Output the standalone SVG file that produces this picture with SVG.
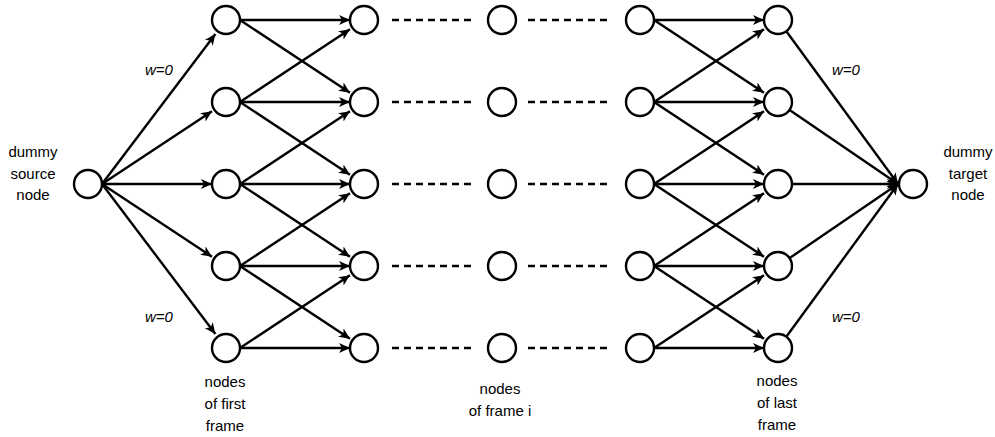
<svg xmlns="http://www.w3.org/2000/svg" width="995" height="437" viewBox="0 0 995 437">
<defs>
<marker id="arr" markerUnits="userSpaceOnUse" markerWidth="14" markerHeight="12" refX="11" refY="5" orient="auto">
<path d="M0,0 L11,5 L0,10 L3,5 Z" fill="#000"/>
</marker>
<style>
.n{fill:#fff;stroke:#000;stroke-width:2.4}
.e{stroke:#000;stroke-width:2.4;fill:none;marker-end:url(#arr)}
.d{stroke:#000;stroke-width:2.4;fill:none;stroke-dasharray:7 5}
.t{font-family:"Liberation Sans",Arial,sans-serif;font-size:15px;fill:#000;text-anchor:middle}
.w{font-family:"Liberation Sans",Arial,sans-serif;font-size:15px;font-style:italic;fill:#000;text-anchor:middle}
</style>
</defs>
<rect width="995" height="437" fill="#fff"/>
<g id="connectors">
<line class="e" x1="102" y1="184" x2="215.4" y2="34"/>
<line class="e" x1="102" y1="184" x2="212" y2="111.3"/>
<line class="e" x1="102" y1="184" x2="212" y2="184"/>
<line class="e" x1="102" y1="184" x2="212" y2="256.7"/>
<line class="e" x1="102" y1="184" x2="215.4" y2="334"/>
<line class="e" x1="240" y1="20" x2="350" y2="20"/>
<line class="e" x1="240" y1="20" x2="350" y2="92.7"/>
<line class="e" x1="240" y1="102" x2="350" y2="102"/>
<line class="e" x1="240" y1="102" x2="350" y2="174.7"/>
<line class="e" x1="240" y1="102" x2="350" y2="29.3"/>
<line class="e" x1="240" y1="184" x2="350" y2="184"/>
<line class="e" x1="240" y1="184" x2="350" y2="256.7"/>
<line class="e" x1="240" y1="184" x2="350" y2="111.3"/>
<line class="e" x1="240" y1="266" x2="350" y2="266"/>
<line class="e" x1="240" y1="266" x2="350" y2="338.7"/>
<line class="e" x1="240" y1="266" x2="350" y2="193.3"/>
<line class="e" x1="240" y1="348" x2="350" y2="348"/>
<line class="e" x1="240" y1="348" x2="350" y2="275.3"/>
<line class="e" x1="654" y1="20" x2="764" y2="20"/>
<line class="e" x1="654" y1="20" x2="764" y2="92.7"/>
<line class="e" x1="654" y1="102" x2="764" y2="102"/>
<line class="e" x1="654" y1="102" x2="764" y2="174.7"/>
<line class="e" x1="654" y1="102" x2="764" y2="29.3"/>
<line class="e" x1="654" y1="184" x2="764" y2="184"/>
<line class="e" x1="654" y1="184" x2="764" y2="256.7"/>
<line class="e" x1="654" y1="184" x2="764" y2="111.3"/>
<line class="e" x1="654" y1="266" x2="764" y2="266"/>
<line class="e" x1="654" y1="266" x2="764" y2="338.7"/>
<line class="e" x1="654" y1="266" x2="764" y2="193.3"/>
<line class="e" x1="654" y1="348" x2="764" y2="348"/>
<line class="e" x1="654" y1="348" x2="764" y2="275.3"/>
<line class="e" x1="786.3" y1="31.3" x2="898" y2="184"/>
<line class="e" x1="789.6" y1="109.9" x2="898" y2="184"/>
<line class="e" x1="792" y1="184" x2="898" y2="184"/>
<line class="e" x1="789.6" y1="258.1" x2="898" y2="184"/>
<line class="e" x1="786.3" y1="336.7" x2="898" y2="184"/>
<line class="d" x1="392" y1="20" x2="472" y2="20"/>
<line class="d" x1="392" y1="102" x2="472" y2="102"/>
<line class="d" x1="392" y1="184" x2="472" y2="184"/>
<line class="d" x1="392" y1="266" x2="472" y2="266"/>
<line class="d" x1="392" y1="348" x2="472" y2="348"/>
<line class="d" x1="528" y1="20" x2="610" y2="20"/>
<line class="d" x1="528" y1="102" x2="610" y2="102"/>
<line class="d" x1="528" y1="184" x2="610" y2="184"/>
<line class="d" x1="528" y1="266" x2="610" y2="266"/>
<line class="d" x1="528" y1="348" x2="610" y2="348"/>
</g>
<g id="source"><circle class="n" cx="88" cy="184" r="14"/></g>
<g id="target"><circle class="n" cx="913" cy="184" r="14"/></g>
<g id="f1r1"><circle class="n" cx="226" cy="20" r="14"/></g>
<g id="f1r2"><circle class="n" cx="226" cy="102" r="14"/></g>
<g id="f1r3"><circle class="n" cx="226" cy="184" r="14"/></g>
<g id="f1r4"><circle class="n" cx="226" cy="266" r="14"/></g>
<g id="f1r5"><circle class="n" cx="226" cy="348" r="14"/></g>
<g id="f2r1"><circle class="n" cx="364" cy="20" r="14"/></g>
<g id="f2r2"><circle class="n" cx="364" cy="102" r="14"/></g>
<g id="f2r3"><circle class="n" cx="364" cy="184" r="14"/></g>
<g id="f2r4"><circle class="n" cx="364" cy="266" r="14"/></g>
<g id="f2r5"><circle class="n" cx="364" cy="348" r="14"/></g>
<g id="fir1"><circle class="n" cx="502" cy="20" r="14"/></g>
<g id="fir2"><circle class="n" cx="502" cy="102" r="14"/></g>
<g id="fir3"><circle class="n" cx="502" cy="184" r="14"/></g>
<g id="fir4"><circle class="n" cx="502" cy="266" r="14"/></g>
<g id="fir5"><circle class="n" cx="502" cy="348" r="14"/></g>
<g id="f4r1"><circle class="n" cx="640" cy="20" r="14"/></g>
<g id="f4r2"><circle class="n" cx="640" cy="102" r="14"/></g>
<g id="f4r3"><circle class="n" cx="640" cy="184" r="14"/></g>
<g id="f4r4"><circle class="n" cx="640" cy="266" r="14"/></g>
<g id="f4r5"><circle class="n" cx="640" cy="348" r="14"/></g>
<g id="f5r1"><circle class="n" cx="778" cy="20" r="14"/></g>
<g id="f5r2"><circle class="n" cx="778" cy="102" r="14"/></g>
<g id="f5r3"><circle class="n" cx="778" cy="184" r="14"/></g>
<g id="f5r4"><circle class="n" cx="778" cy="266" r="14"/></g>
<g id="f5r5"><circle class="n" cx="778" cy="348" r="14"/></g>
<g id="labels">
<text class="t" x="33" y="157">dummy</text>
<text class="t" x="33" y="178.5">source</text>
<text class="t" x="33" y="200">node</text>
<text class="t" x="968" y="157">dummy</text>
<text class="t" x="968" y="178.5">target</text>
<text class="t" x="968" y="200">node</text>
<text class="t" x="225" y="387">nodes</text>
<text class="t" x="225" y="409">of first</text>
<text class="t" x="225" y="431">frame</text>
<text class="t" x="500" y="394">nodes</text>
<text class="t" x="500" y="416">of frame i</text>
<text class="t" x="777" y="386">nodes</text>
<text class="t" x="777" y="408">of last</text>
<text class="t" x="777" y="430">frame</text>
<text class="w" x="159" y="75">w=0</text>
<text class="w" x="159" y="322">w=0</text>
<text class="w" x="846" y="75">w=0</text>
<text class="w" x="846" y="322">w=0</text>
</g>
</svg>
